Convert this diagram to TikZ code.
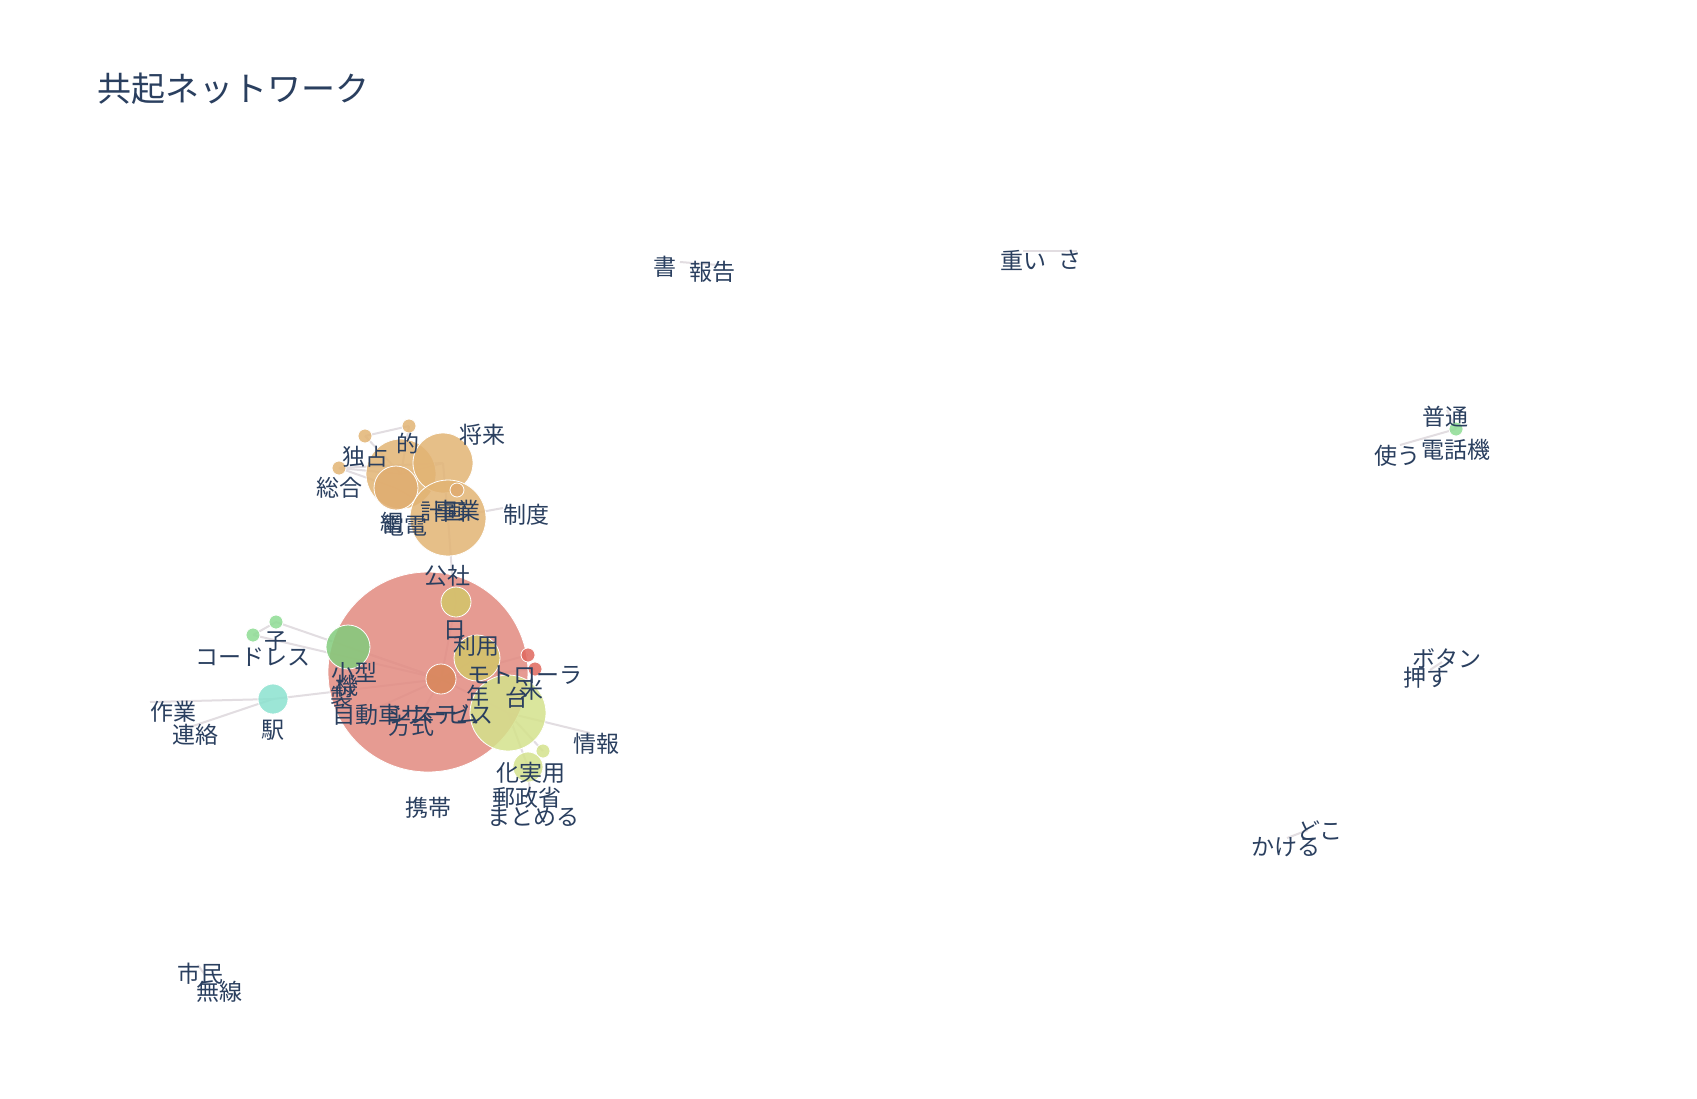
\documentclass[tikz,border=0pt]{standalone}
\usepackage{fontspec}
\newfontfamily\jpfont{Noto Sans CJK JP}
\definecolor{labelblue}{HTML}{2A3F5F}
\definecolor{linkgrey}{HTML}{E2DDE1}
\definecolor{salmon}{HTML}{E28A80}
\definecolor{tan}{HTML}{E2B474}
\definecolor{orangec}{HTML}{D8875A}
\definecolor{greenc}{HTML}{82CC7C}
\definecolor{lightgreen}{HTML}{8EDC94}
\definecolor{teal}{HTML}{8BE2CF}
\definecolor{olive}{HTML}{D3C66A}
\definecolor{lime}{HTML}{D4E28C}
\definecolor{redc}{HTML}{E0685E}

\begin{document}
\begin{tikzpicture}[x=0.5pt,y=-0.5pt,
        word/.style={text=labelblue,inner sep=0pt,
                     font=\jpfont\fontsize{11.5}{12}\selectfont},
        bubble/.style={circle,draw=white,line width=0.4pt,inner sep=0pt,
                       fill opacity=0.85},
        link/.style={draw=linkgrey,line width=1pt}]
      \useasboundingbox[fill=white] (0,0) rectangle (1697,1098);

      % marker centres
      \coordinate (dot1)    at (365,436);
      \coordinate (dot2)    at (409,426);
      \coordinate (dot3)    at (339,468);
      \coordinate (dokusen) at (401,474);
      \coordinate (deep)    at (396,488);
      \coordinate (shorai)  at (443,463);
      \coordinate (jigyo)   at (448,518);
      \coordinate (knot)    at (457,490);
      \coordinate (seidoc)  at (503,508);
      \coordinate (koshac)  at (452,573);
      \coordinate (denwa)   at (428,672);
      \coordinate (hub)     at (441,679);
      \coordinate (kogata)  at (348,647);
      \coordinate (ko1)     at (276,622);
      \coordinate (ko2)     at (253,635);
      \coordinate (eki)     at (273,699);
      \coordinate (sagyoc)  at (150,702);
      \coordinate (renrakuc) at (190,727);
      \coordinate (hi)      at (456,602);
      \coordinate (riyo)    at (477,658);
      \coordinate (red1)    at (528,655);
      \coordinate (red2)    at (535,669);
      \coordinate (beikoku) at (508,713);
      \coordinate (johoc)   at (590,733);
      \coordinate (small)   at (543,751);
      \coordinate (jitsuyo) at (528,767);
      \coordinate (matomec) at (530,795);
      \coordinate (hoshikic) at (415,725);
      \coordinate (jidoc)   at (368,712);
      \coordinate (shoc)    at (680,262);
      \coordinate (hokokuc) at (718,265);
      \coordinate (omoic)   at (1023,251);
      \coordinate (sac)     at (1077,251);
      \coordinate (kiki)    at (1456,429);
      \coordinate (tsukauc) at (1400,445);
      \coordinate (futsuc)  at (1447,410);
      \coordinate (osuc)    at (1430,670);
      \coordinate (botanc)  at (1442,662);
      \coordinate (kakeruc) at (1287,838);
      \coordinate (dokoc)   at (1308,830);
      \coordinate (shiminc) at (198,965);
      \coordinate (musenc)  at (205,975);

      % links
      \draw[link] (dot1) -- (dot2);
      \draw[link] (dot1) -- (dokusen);
      \draw[link] (dot2) -- (dokusen);
      \draw[link] (dot3) -- (dokusen);
      \draw[link] (dot3) -- (shorai);
      \draw[link] (dot3) -- (deep);
      \draw[link] (dokusen) -- (shorai);
      \draw[link] (deep) -- (jigyo);
      \draw[link] (shorai) -- (jigyo);
      \draw[link] (jigyo) -- (seidoc);
      \draw[link] (jigyo) -- (koshac);
      \draw[link] (koshac) -- (hi);
      \draw[link] (hi) -- (hub);
      \draw[link] (kogata) -- (hub);
      \draw[link] (ko1) -- (hub);
      \draw[link] (ko2) -- (hub);
      \draw[link] (ko1) -- (ko2);
      \draw[link] (eki) -- (hub);
      \draw[link] (sagyoc) -- (eki);
      \draw[link] (renrakuc) -- (eki);
      \draw[link] (riyo) -- (hub);
      \draw[link] (red1) -- (hub);
      \draw[link] (red2) -- (hub);
      \draw[link] (beikoku) -- (hub);
      \draw[link] (hub) -- (hoshikic);
      \draw[link] (hub) -- (jidoc);
      \draw[link] (beikoku) -- (johoc);
      \draw[link] (beikoku) -- (small);
      \draw[link] (beikoku) -- (jitsuyo);
      \draw[link] (jitsuyo) -- (matomec);
      \draw[link] (shoc) -- (hokokuc);
      \draw[link] (omoic) -- (sac);
      \draw[link] (kiki) -- (tsukauc);
      \draw[link] (kiki) -- (futsuc);
      \draw[link] (osuc) -- (botanc);
      \draw[link] (kakeruc) -- (dokoc);
      \draw[link] (shiminc) -- (musenc);

      % markers (diameter in px = 2 x size in pt)
      \node[bubble,fill=salmon,minimum size=100pt]  (m-denwa)   at (denwa)   {};
      \node[bubble,fill=tan,minimum size=35pt]      (m-dokusen) at (dokusen) {};
      \node[bubble,fill=tan!85!orangec,minimum size=22pt] (m-deep) at (deep) {};
      \node[bubble,fill=tan,minimum size=30pt]      (m-shorai)  at (shorai)  {};
      \node[bubble,fill=tan,minimum size=38pt]      (m-jigyo)   at (jigyo)   {};
      \node[bubble,fill=tan!80!orangec,minimum size=7pt] (m-knot) at (knot)  {};
      \node[bubble,fill=tan,minimum size=7pt]       (m-dot1)    at (dot1)    {};
      \node[bubble,fill=tan,minimum size=7pt]       (m-dot2)    at (dot2)    {};
      \node[bubble,fill=tan,minimum size=7pt]       (m-dot3)    at (dot3)    {};
      \node[bubble,fill=orangec,minimum size=15pt]  (m-hub)     at (hub)     {};
      \node[bubble,fill=greenc,minimum size=22pt]   (m-kogata)  at (kogata)  {};
      \node[bubble,fill=lightgreen,minimum size=7pt] (m-ko1)    at (ko1)     {};
      \node[bubble,fill=lightgreen,minimum size=7pt] (m-ko2)    at (ko2)     {};
      \node[bubble,fill=teal,minimum size=15pt]     (m-eki)     at (eki)     {};
      \node[bubble,fill=olive,minimum size=15pt]    (m-hi)      at (hi)      {};
      \node[bubble,fill=olive,minimum size=23pt]    (m-riyo)    at (riyo)    {};
      \node[bubble,fill=redc,minimum size=7pt]      (m-red1)    at (red1)    {};
      \node[bubble,fill=redc,minimum size=7pt]      (m-red2)    at (red2)    {};
      \node[bubble,fill=lime,minimum size=38pt]     (m-beikoku) at (beikoku) {};
      \node[bubble,fill=lime,minimum size=7pt]      (m-small)   at (small)   {};
      \node[bubble,fill=lime,minimum size=15pt]     (m-jitsuyo) at (jitsuyo) {};
      \node[bubble,fill=lightgreen,minimum size=7pt] (m-kiki)   at (kiki)    {};

      % labels
      \node[word,anchor=west,font=\jpfont\fontsize{17}{18}\selectfont] (title) at (97,89) {共起ネットワーク};
      \node[word] (sho)      at (665,267) {書};
      \node[word] (hokoku)   at (712,272) {報告};
      \node[word] (omoi)     at (1023,260) {重い};
      \node[word] (sa)       at (1070,260) {さ};
      \node[word] (futsu)    at (1445,417) {普通};
      \node[word] (tsukau)   at (1397,456) {使う};
      \node[word] (denwaki)  at (1456,450) {電話機};
      \node[word] (botan)    at (1447,659) {ボタン};
      \node[word] (osu)      at (1426,678) {押す};
      \node[word] (doko)     at (1320,831) {どこ};
      \node[word] (kakeru)   at (1286,847) {かける};
      \node[word] (shimin)   at (200,974)  {市民};
      \node[word] (musen)    at (219,992)  {無線};
      \node[word] (dokusenl) at (365,457)  {独占};
      \node[word] (teki)     at (408,444)  {的};
      \node[word] (shorail)  at (482,435)  {将来};
      \node[word] (sogo)     at (339,488)  {総合};
      \node[word] (seido)    at (526,515)  {制度};
      \node[word] (keikaku)  at (443,512)  {計画};
      \node[word] (jigyol)   at (457,511)  {事業};
      \node[word] (ami)      at (392,523)  {網};
      \node[word] (denden)   at (404,526)  {電電};
      \node[word] (kosha)    at (447,576)  {公社};
      \node[word] (hil)      at (455,630)  {日};
      \node[word] (riyol)    at (476,646)  {利用};
      \node[word] (motorola) at (525,675)  {モトローラ};
      \node[word] (dai)      at (517,698)  {台};
      \node[word] (bei)      at (532,690)  {米};
      \node[word] (nen)      at (478,696)  {年};
      \node[word] (kogatal)  at (354,673)  {小型};
      \node[word] (ki)       at (347,686)  {機};
      \node[word] (sei)      at (342,697)  {製};
      \node[word] (jidosha)  at (367,715)  {自動車};
      \node[word] (system)   at (434,715)  {システム};
      \node[word] (service)  at (447,715)  {サービス};
      \node[word] (hoshiki)  at (411,726)  {方式};
      \node[word] (keitai)   at (428,808)  {携帯};
      \node[word] (joho)     at (596,744)  {情報};
      \node[word] (ka)       at (508,773)  {化};
      \node[word] (jitsuyol) at (542,773)  {実用};
      \node[word] (yusei)    at (527,798)  {郵政省};
      \node[word] (matomeru) at (533,817)  {まとめる};
      \node[word] (kol)      at (276,642)  {子};
      \node[word] (cordless) at (253,657)  {コードレス};
      \node[word] (sagyo)    at (173,712)  {作業};
      \node[word] (renraku)  at (195,735)  {連絡};
      \node[word] (ekil)     at (273,730)  {駅};
    \end{tikzpicture}
\end{document}
